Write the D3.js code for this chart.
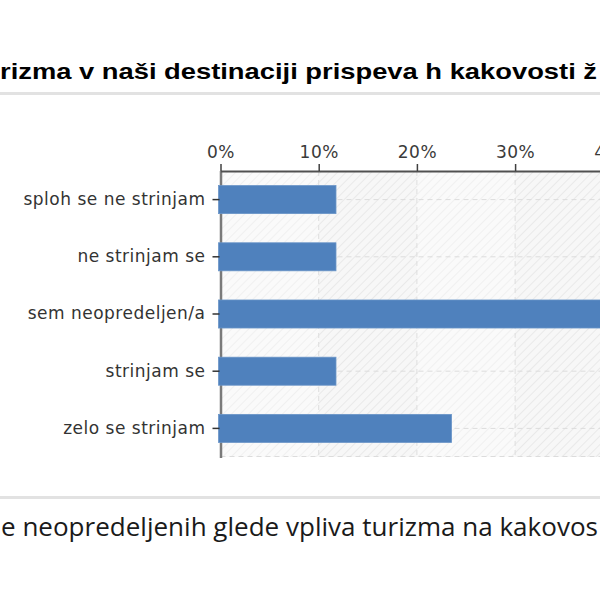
<!DOCTYPE html>
<html>
<head>
<meta charset="utf-8">
<script src="https://cdn.jsdelivr.net/npm/d3@7"></script>
<style>
  html, body { margin: 0; padding: 0; background: #fff; overflow: hidden; }
  svg { display: block; }
</style>
</head>
<body>
<svg id="chart" width="600" height="600"></svg>
<script>
// ---- data ----
const categories = ["sploh se ne strinjam", "ne strinjam se", "sem neopredeljen/a", "strinjam se", "zelo se strinjam"];
const values = [11.76, 11.76, 41.18, 11.76, 23.53];
const tickValues = [0, 10, 20, 30, 40, 50];
const titleText = "rizma v naši destinaciji prispeva h kakovosti ž";
const captionText = "e neopredeljenih glede vpliva turizma na kakovos";

const svg = d3.select("#chart");

// ---- layout ----
const plot = { left: 220.5, top: 171, bottom: 457, right: 600 };
const x = d3.scaleLinear().domain([0, 50]).range([plot.left, plot.left + 491]);
const y = d3.scaleBand().domain(categories).range([plot.top, plot.bottom])
  .paddingInner(0.51).paddingOuter(0.255);

// ---- defs: hatch ----
const defs = svg.append("defs");
const pat = defs.append("pattern").attr("id", "hatch").attr("patternUnits", "userSpaceOnUse")
  .attr("width", 6).attr("height", 6).attr("patternTransform", "rotate(45)");
pat.append("rect").attr("width", 6).attr("height", 6).attr("fill", "#f7f7f7");
pat.append("line").attr("x1", 0).attr("y1", 0).attr("x2", 0).attr("y2", 6)
  .attr("stroke", "#e9e9e9").attr("stroke-width", 2);
defs.append("clipPath").attr("id", "clipPlot").append("rect")
  .attr("x", plot.left).attr("y", plot.top).attr("width", 600).attr("height", plot.bottom - plot.top);

// ---- title ----
svg.append("text")
  .attr("x", 0).attr("y", 79)
  .attr("font-family", "'Liberation Sans', Arial, sans-serif")
  .attr("font-weight", "bold").attr("font-size", 22)
  .attr("textLength", 597).attr("lengthAdjust", "spacingAndGlyphs")
  .attr("fill", "#000").text(titleText);
svg.append("rect").attr("x", 0).attr("y", 92).attr("width", 600).attr("height", 3).attr("fill", "#e2e2e2");

// ---- plot background ----
const g = svg.append("g").attr("clip-path", "url(#clipPlot)");
g.append("rect").attr("x", plot.left).attr("y", plot.top)
  .attr("width", 600).attr("height", plot.bottom - plot.top).attr("fill", "url(#hatch)");
// alternate lighter columns
g.selectAll("rect.band").data(d3.range(0, 50, 20)).join("rect").attr("class", "band")
  .attr("x", d => x(d)).attr("y", plot.top)
  .attr("width", d => x(d + 10) - x(d)).attr("height", plot.bottom - plot.top)
  .attr("fill", "#fff").attr("opacity", 0.35);

// vertical grid
g.selectAll("line.vgrid").data(tickValues.filter(d => d > 0)).join("line").attr("class", "vgrid")
  .attr("x1", d => x(d)).attr("x2", d => x(d))
  .attr("y1", plot.top).attr("y2", plot.bottom)
  .attr("stroke", "#dedede").attr("stroke-dasharray", "5,4");
// horizontal grid
g.selectAll("line.hgrid").data(categories).join("line").attr("class", "hgrid")
  .attr("x1", plot.left).attr("x2", 600)
  .attr("y1", d => y(d) + y.bandwidth() / 2).attr("y2", d => y(d) + y.bandwidth() / 2)
  .attr("stroke", "#dcdcdc").attr("stroke-dasharray", "5,4");
// bottom border
g.append("line").attr("x1", plot.left).attr("x2", 600).attr("y1", plot.bottom - 0.5).attr("y2", plot.bottom - 0.5)
  .attr("stroke", "#dcdcdc").attr("stroke-dasharray", "5,4");

// ---- left axis line ----
svg.append("line").attr("x1", plot.left + 0.5).attr("x2", plot.left + 0.5)
  .attr("y1", plot.top).attr("y2", plot.bottom + 1)
  .attr("stroke", "#7a7a7a").attr("stroke-width", 2.5);

// ---- bars ----
svg.append("g").selectAll("rect.bar").data(categories).join("rect").attr("class", "bar")
  .attr("x", x(0) - 2)
  .attr("y", d => y(d))
  .attr("width", (d, i) => x(values[i]) - x(0) + 2)
  .attr("height", y.bandwidth())
  .attr("fill", "#4f81bd")
  .attr("stroke", "#6a95c8").attr("stroke-width", 0.8);

// ---- top axis ----
const xAxis = d3.axisTop(x).tickValues(tickValues).tickFormat(d => d + "%")
  .tickSizeInner(7).tickSizeOuter(0).tickPadding(6);
const ax = svg.append("g").attr("transform", `translate(0,${plot.top})`).call(xAxis);
ax.select(".domain").attr("stroke", "#505050").attr("stroke-width", 1.8);
ax.selectAll(".tick line").attr("stroke", "#404040").attr("stroke-width", 1.5);
ax.selectAll(".tick text")
  .attr("font-family", "'DejaVu Sans', Verdana, sans-serif")
  .attr("font-size", 17).attr("letter-spacing", 0.5).attr("fill", "#3a3a3a");

// ---- left axis labels ----
const yAxis = d3.axisLeft(y).tickSizeInner(7).tickSizeOuter(0).tickPadding(7);
const ay = svg.append("g").attr("transform", `translate(${plot.left - 1},0)`).call(yAxis);
ay.select(".domain").remove();
ay.selectAll(".tick line").attr("stroke", "#333").attr("stroke-width", 1.5);
ay.selectAll(".tick text")
  .attr("font-family", "'DejaVu Sans', Verdana, sans-serif")
  .attr("font-size", 17).attr("letter-spacing", 0.5).attr("fill", "#333");

// ---- bottom separator + caption ----
svg.append("rect").attr("x", 0).attr("y", 496).attr("width", 600).attr("height", 3).attr("fill", "#e2e2e2");
svg.append("text")
  .attr("x", 1).attr("y", 536)
  .attr("font-family", "'Open Sans', sans-serif")
  .attr("font-size", 26)
  .attr("textLength", 597).attr("lengthAdjust", "spacingAndGlyphs")
  .attr("fill", "#1a1a1a").text(captionText);
</script>
</body>
</html>
